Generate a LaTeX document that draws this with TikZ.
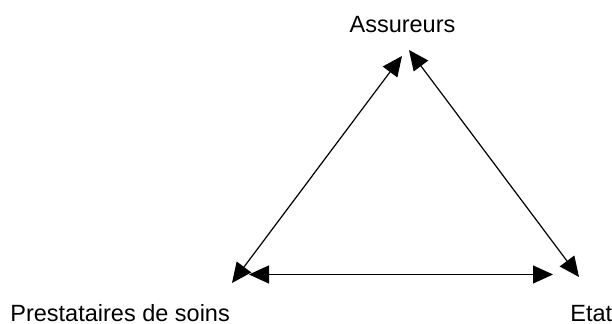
\documentclass[tikz,border=0pt]{standalone}
\usepackage{fontspec}
\setmainfont{Liberation Sans}
\usetikzlibrary{arrows.meta}
\begin{document}
\begin{tikzpicture}[
  x=0.5pt, y=-0.5pt,
  actor/.style={inner sep=0pt, font=\fontsize{11.75}{14}\selectfont},
  link/.style={{Triangle[length=10pt, width=9pt]}-{Triangle[length=10pt, width=9pt]}, line width=0.6pt, black},
]
  \useasboundingbox (0,0) rectangle (612,324);

  % Actors
  \node[actor, anchor=base] (assur) at (402.5, 32.7) {Assureurs};
  \node[actor, anchor=base west] (prest) at (10, 321.7) {Prestataires de soins};
  \node[actor, anchor=base west] (etat) at (570, 321.7) {Etat};

  % Arrow ends
  \coordinate (pA) at (232, 283);
  \coordinate (aP) at (402, 56);
  \coordinate (aE) at (409, 50);
  \coordinate (eA) at (579, 277);
  \coordinate (pE) at (249, 274.5);
  \coordinate (eP) at (553, 274.5);

  % Relations
  \draw[link] (pA) -- (aP);
  \draw[link] (aE) -- (eA);
  \draw[link] (pE) -- (eP);
\end{tikzpicture}
\end{document}
